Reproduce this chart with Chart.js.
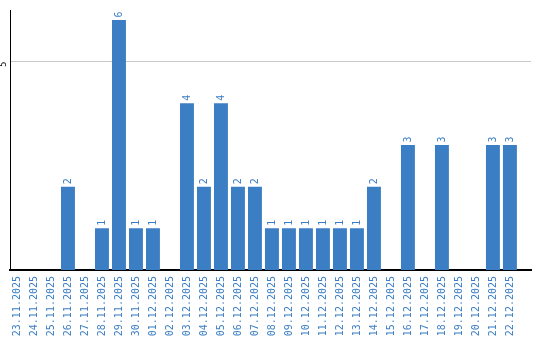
<!DOCTYPE html>
<html>
<head>
<meta charset="utf-8">
<script src="https://cdn.jsdelivr.net/npm/chart.js@4/dist/chart.umd.min.js"></script>
<style>
  html, body { margin: 0; padding: 0; background: #fff; }
  #wrap { width: 540px; height: 340px; }
</style>
</head>
<body>
<div id="wrap"><canvas id="chart" width="540" height="340"></canvas></div>
<script>
const dates = [
  '23.11.2025', '24.11.2025', '25.11.2025', '26.11.2025', '27.11.2025', '28.11.2025',
  '29.11.2025', '30.11.2025', '01.12.2025', '02.12.2025', '03.12.2025', '04.12.2025',
  '05.12.2025', '06.12.2025', '07.12.2025', '08.12.2025', '09.12.2025', '10.12.2025',
  '11.12.2025', '12.12.2025', '13.12.2025', '14.12.2025', '15.12.2025', '16.12.2025',
  '17.12.2025', '18.12.2025', '19.12.2025', '20.12.2025', '21.12.2025', '22.12.2025'
];
const counts = [0, 0, 0, 2, 0, 1, 6, 1, 1, 0, 4, 2, 4, 2, 2, 1, 1, 1, 1, 1, 1, 2, 0, 3, 0, 3, 0, 0, 3, 3];
const yTicks = [5];

const blue = '#3b7ec3';

// Zahlen über den Balken (senkrecht)
const valueLabels = {
  id: 'valueLabels',
  afterDatasetsDraw(chart) {
    const { ctx } = chart;
    const meta = chart.getDatasetMeta(0);
    ctx.save();
    ctx.fillStyle = blue;
    ctx.font = '10px "DejaVu Sans Mono", monospace';
    ctx.textAlign = 'left';
    ctx.textBaseline = 'middle';
    meta.data.forEach((bar, i) => {
      if (!counts[i]) return;
      ctx.save();
      ctx.translate(bar.x, bar.y - 2.5);
      ctx.rotate(-Math.PI / 2);
      ctx.fillText(String(counts[i]), 0, 0);
      ctx.restore();
    });
    ctx.restore();
  }
};

new Chart(document.getElementById('chart'), {
  type: 'bar',
  data: {
    datasets: [{
      data: counts.map((v, i) => ({ x: i, y: v })),
      backgroundColor: blue,
      borderWidth: 0,
      categoryPercentage: 1,
      barPercentage: 0.82
    }]
  },
  options: {
    responsive: false,
    animation: false,
    layout: { padding: { top: 10, right: 9, left: 0, bottom: 0 } },
    plugins: {
      legend: { display: false },
      tooltip: { enabled: false }
    },
    scales: {
      x: {
        type: 'linear',
        offset: false,
        min: -0.41,
        max: 30.24,
        grid: { display: false, drawTicks: false, offset: false },
        border: { display: true, color: '#000', width: 2 },
        afterBuildTicks: (scale) => {
          scale.ticks = dates.map((d, i) => ({ value: i }));
        },
        afterFit: (scale) => { scale.height = 70; },
        ticks: {
          autoSkip: false,
          minRotation: 90,
          maxRotation: 90,
          padding: 6,
          color: blue,
          font: { family: '"DejaVu Sans Mono", monospace', size: 10 },
          callback: (value) => dates[value]
        }
      },
      y: {
        min: 0,
        max: 6.22,
        afterBuildTicks: (scale) => {
          scale.ticks = yTicks.map(v => ({ value: v }));
        },
        afterFit: (scale) => { scale.width = 10; },
        grid: { color: '#c8c8c8', lineWidth: 1, drawTicks: false },
        border: { display: true, color: '#000', width: 1 },
        ticks: {
          minRotation: 90,
          maxRotation: 90,
          padding: 6,
          color: '#000',
          font: { family: '"DejaVu Sans", sans-serif', size: 8 }
        }
      }
    }
  },
  plugins: [valueLabels]
});
</script>
</body>
</html>
